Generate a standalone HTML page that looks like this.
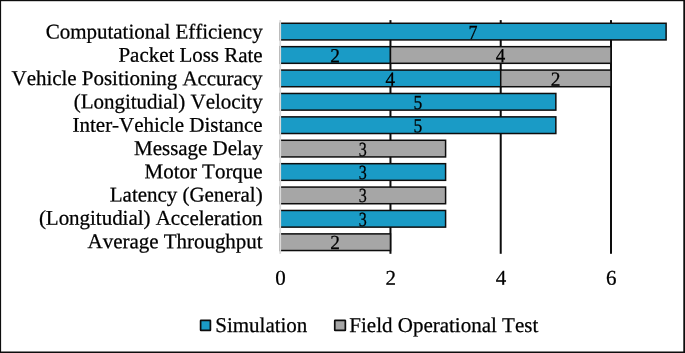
<!DOCTYPE html>
<html><head><meta charset="utf-8"><title>chart</title>
<style>
html,body{margin:0;padding:0;background:#fff;}
body{width:685px;height:353px;overflow:hidden;position:relative;}
svg{position:absolute;left:0;top:0;display:block;will-change:transform;opacity:0.999;}
text{font-family:"Liberation Serif",serif;font-kerning:none;font-size:21px;fill:#000;stroke:#000;stroke-width:0.25px;}
text.v{font-size:20px;}
text.l{letter-spacing:-0.03px;}
</style></head><body>
<svg width="685" height="353" viewBox="0 0 685 353">
<rect x="0" y="0" width="685" height="353" fill="#fff"/>

<line x1="390.46" y1="20.1" x2="390.46" y2="253.80" stroke="#0d0d0d" stroke-width="2.0"/>
<line x1="500.72" y1="20.1" x2="500.72" y2="253.80" stroke="#0d0d0d" stroke-width="2.0"/>
<line x1="610.98" y1="20.1" x2="610.98" y2="253.80" stroke="#0d0d0d" stroke-width="2.0"/>
<rect x="280.20" y="23.27" width="385.91" height="16.65" fill="#1a9bc6" stroke="#0d0d0d" stroke-width="1.5"/>
<rect x="280.20" y="46.67" width="110.26" height="16.65" fill="#1a9bc6" stroke="#0d0d0d" stroke-width="1.5"/>
<rect x="390.46" y="46.67" width="220.52" height="16.65" fill="#a6a6a6" stroke="#0d0d0d" stroke-width="1.5"/>
<rect x="280.20" y="70.08" width="220.52" height="16.65" fill="#1a9bc6" stroke="#0d0d0d" stroke-width="1.5"/>
<rect x="500.72" y="70.08" width="110.26" height="16.65" fill="#a6a6a6" stroke="#0d0d0d" stroke-width="1.5"/>
<rect x="280.20" y="93.47" width="275.65" height="16.65" fill="#1a9bc6" stroke="#0d0d0d" stroke-width="1.5"/>
<rect x="280.20" y="116.87" width="275.65" height="16.65" fill="#1a9bc6" stroke="#0d0d0d" stroke-width="1.5"/>
<rect x="280.20" y="140.28" width="165.39" height="16.65" fill="#a6a6a6" stroke="#0d0d0d" stroke-width="1.5"/>
<rect x="280.20" y="163.68" width="165.39" height="16.65" fill="#1a9bc6" stroke="#0d0d0d" stroke-width="1.5"/>
<rect x="280.20" y="187.08" width="165.39" height="16.65" fill="#a6a6a6" stroke="#0d0d0d" stroke-width="1.5"/>
<rect x="280.20" y="210.47" width="165.39" height="16.65" fill="#1a9bc6" stroke="#0d0d0d" stroke-width="1.5"/>
<rect x="280.20" y="233.88" width="110.26" height="16.65" fill="#a6a6a6" stroke="#0d0d0d" stroke-width="1.5"/>
<line x1="280.2" y1="20.1" x2="280.2" y2="253.80" stroke="#dadada" stroke-width="1.8"/>
<text transform="translate(472.95 39.00) rotate(0.03) scale(0.9 1)" text-anchor="middle" class="v">7</text>
<text transform="translate(262.60 38.60) rotate(0.03)" text-anchor="end" class="l">Computational Efficiency</text>
<text transform="translate(335.13 62.33) rotate(0.03) scale(0.97 1)" text-anchor="middle" class="v">2</text>
<text transform="translate(500.52 62.33) rotate(0.03) scale(0.95 1)" text-anchor="middle" class="v">4</text>
<text transform="translate(262.60 61.89) rotate(0.03)" text-anchor="end" class="l">Packet Loss Rate</text>
<text transform="translate(390.26 85.66) rotate(0.03) scale(0.95 1)" text-anchor="middle" class="v">4</text>
<text transform="translate(555.65 85.66) rotate(0.03) scale(0.97 1)" text-anchor="middle" class="v">2</text>
<text transform="translate(262.60 85.18) rotate(0.03)" text-anchor="end" class="l">Vehicle Positioning Accuracy</text>
<text transform="translate(417.82 108.99) rotate(0.03) scale(0.88 1)" text-anchor="middle" class="v">5</text>
<text transform="translate(262.60 108.47) rotate(0.03)" text-anchor="end" class="l">(Longitudial) Velocity</text>
<text transform="translate(417.82 132.32) rotate(0.03) scale(0.88 1)" text-anchor="middle" class="v">5</text>
<text transform="translate(262.60 131.76) rotate(0.03)" text-anchor="end" class="l">Inter-Vehicle Distance</text>
<text transform="translate(362.69 155.65) rotate(0.03) scale(0.8 1)" text-anchor="middle" class="v">3</text>
<text transform="translate(262.60 155.05) rotate(0.03)" text-anchor="end" class="l">Message Delay</text>
<text transform="translate(362.69 178.98) rotate(0.03) scale(0.8 1)" text-anchor="middle" class="v">3</text>
<text transform="translate(262.60 178.34) rotate(0.03)" text-anchor="end" class="l">Motor Torque</text>
<text transform="translate(362.69 202.31) rotate(0.03) scale(0.8 1)" text-anchor="middle" class="v">3</text>
<text transform="translate(262.60 201.63) rotate(0.03)" text-anchor="end" class="l">Latency (General)</text>
<text transform="translate(362.69 225.64) rotate(0.03) scale(0.8 1)" text-anchor="middle" class="v">3</text>
<text transform="translate(262.60 224.92) rotate(0.03)" text-anchor="end" class="l">(Longitudial) Acceleration</text>
<text transform="translate(335.13 248.97) rotate(0.03) scale(0.97 1)" text-anchor="middle" class="v">2</text>
<text transform="translate(262.60 248.21) rotate(0.03)" text-anchor="end" class="l">Average Throughput</text>
<text transform="translate(280.50 284.85) rotate(0.03)" text-anchor="middle">0</text>
<text transform="translate(390.76 284.85) rotate(0.03)" text-anchor="middle">2</text>
<text transform="translate(501.02 284.85) rotate(0.03)" text-anchor="middle">4</text>
<text transform="translate(611.28 284.85) rotate(0.03)" text-anchor="middle">6</text>
<rect x="200.6" y="320.4" width="9.8" height="9.9" rx="0.4" fill="#1a9bc6" stroke="#0d0d0d" stroke-width="1.7"/>
<text transform="translate(215.20 332.00) rotate(0.03)">Simulation</text>
<rect x="334.75" y="320.4" width="10.6" height="9.9" rx="0.4" fill="#a6a6a6" stroke="#0d0d0d" stroke-width="1.7"/>
<text transform="translate(349.30 332.00) rotate(0.03)">Field Operational Test</text>
<rect x="0" y="0" width="685" height="1.2" fill="#0d0d0d"/>
<rect x="0" y="0" width="1.1" height="353" fill="#0d0d0d"/>
<rect x="683.3" y="0" width="1.7" height="353" fill="#0d0d0d"/>
<rect x="0" y="351.5" width="685" height="1.5" fill="#0d0d0d"/>
</svg></body></html>
